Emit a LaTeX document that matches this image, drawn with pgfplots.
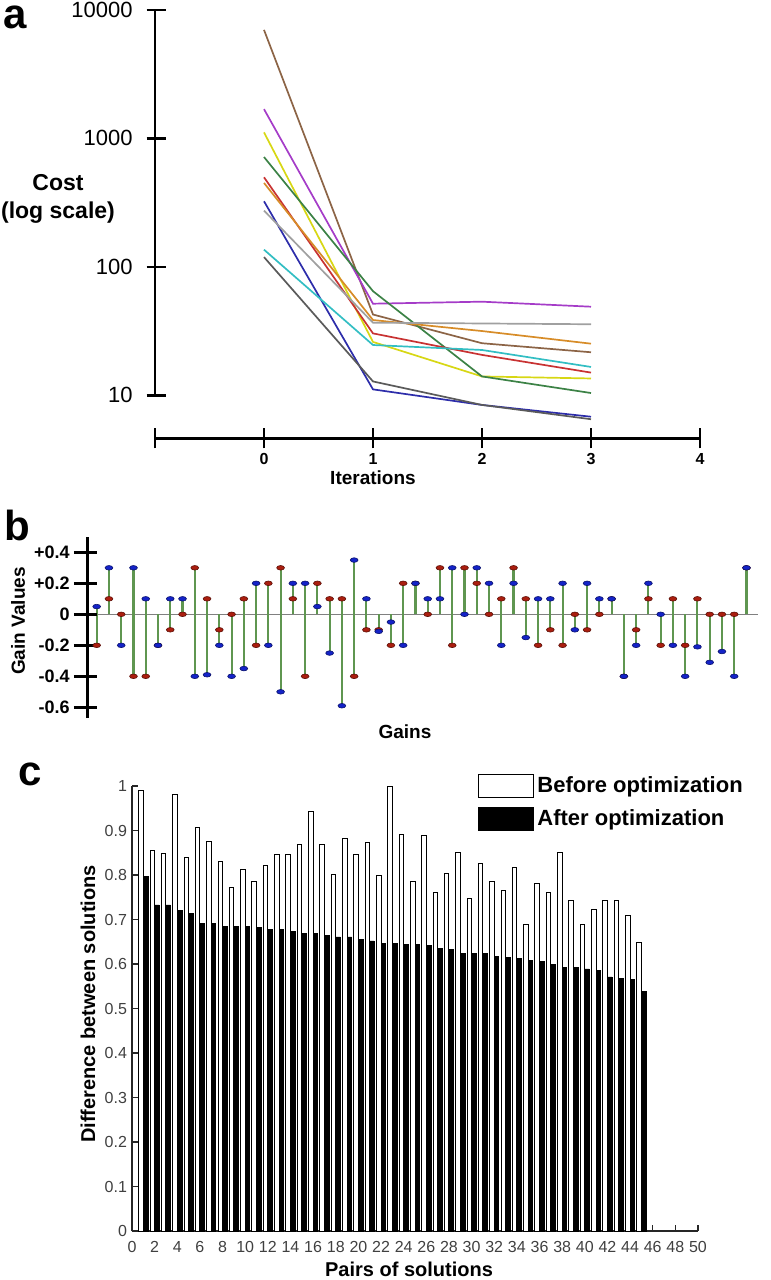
\documentclass[border=0pt]{standalone}
\usepackage{fontspec}
\setmainfont{Liberation Sans}
\usepackage{pgfplots}
\usepackage{pgfplotstable}
\pgfplotsset{compat=1.18}
\definecolor{cBrown}{RGB}{140,100,70}
\definecolor{cPurple}{RGB}{165,60,200}
\definecolor{cYellow}{RGB}{215,215,20}
\definecolor{cGreen}{RGB}{60,130,70}
\definecolor{cRed}{RGB}{200,50,50}
\definecolor{cOrange}{RGB}{215,140,40}
\definecolor{cBlue}{RGB}{45,45,170}
\definecolor{cGray}{RGB}{160,160,160}
\definecolor{cCyan}{RGB}{50,190,195}
\definecolor{cDark}{RGB}{90,90,90}
\definecolor{stemGreen}{RGB}{95,150,80}
\definecolor{mBlue}{RGB}{20,35,200}
\definecolor{mRed}{RGB}{170,30,15}

\pgfplotstableread{
i r b
1 -0.2 0.05
2 0.1 0.3
3 0 -0.2
4 -0.4 0.3
5 -0.4 0.1
6 -0.2 -0.2
7 -0.1 0.1
8 0 0.1
9 0.3 -0.4
10 0.1 -0.39
11 -0.1 -0.2
12 0 -0.4
13 0.1 -0.35
14 -0.2 0.2
15 0.2 -0.2
16 0.3 -0.5
17 0.1 0.2
18 -0.4 0.2
19 0.2 0.05
20 0.1 -0.25
21 0.1 -0.59
22 -0.4 0.35
23 -0.1 0.1
24 -0.1 -0.11
25 -0.2 -0.05
26 0.2 -0.2
27 0.2 0.2
28 0 0.1
29 0.3 0.1
30 -0.2 0.3
31 0.3 0
32 0.2 0.3
33 0 0.2
34 0.1 -0.2
35 0.3 0.2
36 0.1 -0.15
37 -0.2 0.1
38 -0.1 0.1
39 -0.2 0.2
40 0 -0.1
41 -0.1 0.2
42 0 0.1
43 0.1 0.1
44 -0.4 -0.4
45 -0.1 -0.2
46 0.1 0.2
47 -0.2 0
48 0.1 -0.2
49 -0.2 -0.4
50 0.1 -0.21
51 0 -0.31
52 0 -0.24
53 0 -0.4
54 0.3 0.3
}\gaindata

\pgfplotstableread{
p b a
1 0.989 0.796
2 0.854 0.733
3 0.849 0.733
4 0.980 0.720
5 0.840 0.714
6 0.907 0.692
7 0.875 0.692
8 0.831 0.685
9 0.772 0.685
10 0.813 0.685
11 0.786 0.682
12 0.822 0.677
13 0.846 0.677
14 0.846 0.674
15 0.869 0.668
16 0.942 0.668
17 0.869 0.665
18 0.802 0.661
19 0.881 0.661
20 0.846 0.655
21 0.872 0.652
22 0.798 0.647
23 1.000 0.647
24 0.892 0.644
25 0.786 0.644
26 0.889 0.641
27 0.760 0.635
28 0.804 0.632
29 0.851 0.623
30 0.748 0.623
31 0.825 0.623
32 0.786 0.618
33 0.766 0.615
34 0.816 0.612
35 0.688 0.609
36 0.781 0.606
37 0.760 0.600
38 0.851 0.592
39 0.743 0.592
40 0.688 0.589
41 0.723 0.586
42 0.743 0.571
43 0.743 0.568
44 0.708 0.565
45 0.649 0.539
}\pairdata

\begin{document}
\begin{tikzpicture}
\path[use as bounding box] (0,0) rectangle (385.5pt,-640pt);

% ---------------- panel a ----------------
\node[anchor=base west, font=\bfseries\fontsize{21}{21}\selectfont, inner sep=0pt, text height=11pt, text depth=0pt] at (1.5pt,-14pt) {a};
\node[align=center, font=\bfseries\fontsize{11.5}{14}\selectfont, inner sep=0pt] at (29pt,-99.5pt) {Cost\\(log scale)};
\node[font=\bfseries\fontsize{9.5}{11}\selectfont, inner sep=0pt] at (186.5pt,-239pt) {Iterations};

\begin{axis}[at={(77.5pt,-219.15pt)}, anchor=south west, scale only axis,
  width=272.5pt, height=214.15pt, xmin=-1, xmax=4, ymode=log, ymin=4.617, ymax=10000,
  axis lines=none, clip=false]
\addplot[color=cBrown, line width=0.85pt] coordinates {(0,7000) (1,42.5) (2,25.4) (3,21.6)};
\addplot[color=cPurple, line width=0.85pt] coordinates {(0,1690) (1,51.6) (2,53.5) (3,48.9)};
\addplot[color=cYellow, line width=0.85pt] coordinates {(0,1114) (1,26) (2,14) (3,13.5)};
\addplot[color=cGreen, line width=0.85pt] coordinates {(0,716) (1,64.6) (2,14) (3,10.4)};
\addplot[color=cRed, line width=0.85pt] coordinates {(0,498) (1,30.3) (2,20.6) (3,15)};
\addplot[color=cOrange, line width=0.85pt] coordinates {(0,450) (1,38.5) (2,31.6) (3,25.2)};
\addplot[color=cBlue, line width=0.85pt] coordinates {(0,324) (1,11.1) (2,8.4) (3,6.8)};
\addplot[color=cGray, line width=0.85pt] coordinates {(0,274) (1,36.7) (2,36.2) (3,35.7)};
\addplot[color=cCyan, line width=0.85pt] coordinates {(0,136) (1,24.6) (2,22.5) (3,16.6)};
\addplot[color=cDark, line width=0.85pt] coordinates {(0,119) (1,12.8) (2,8.4) (3,6.5)};
% axes
\draw[line width=1.3pt] (axis cs:-1,4.617) -- (axis cs:4,4.617);
\pgfplotsinvokeforeach{-1,0,1,2,3,4}{
  \draw[line width=1.3pt] ([yshift=-5pt]axis cs:#1,4.617) -- ([yshift=5pt]axis cs:#1,4.617);
}
\pgfplotsinvokeforeach{0,1,2,3,4}{
  \node[font=\bfseries\fontsize{8}{9}\selectfont, inner sep=0pt] at ([yshift=-10.5pt]axis cs:#1,4.617) {#1};
}
\draw[line width=1.3pt] (axis cs:-1,10) -- (axis cs:-1,10000);
\pgfplotsinvokeforeach{10,100,1000,10000}{
  \draw[line width=1.3pt] ([xshift=-4.2pt]axis cs:-1,#1) -- ([xshift=5.3pt]axis cs:-1,#1);
  \node[anchor=east, font=\fontsize{11}{12}\selectfont, inner sep=0pt] at ([xshift=-11pt]axis cs:-1,#1) {#1};
}
\end{axis}

% ---------------- panel b ----------------
\node[anchor=base west, font=\bfseries\fontsize{21}{21}\selectfont, inner sep=0pt] at (2pt,-270pt) {b};
\node[rotate=90, font=\bfseries\fontsize{9.5}{11}\selectfont, inner sep=0pt] at (9pt,-310.5pt) {Gain Values};
\node[font=\bfseries\fontsize{9.5}{11}\selectfont, inner sep=0pt] at (202.5pt,-366pt) {Gains};

\begin{axis}[at={(43.65pt,-359pt)}, anchor=south west, scale only axis,
  width=335.35pt, height=90.6pt, xmin=0.233, xmax=54.94, ymin=-0.669, ymax=0.5,
  axis lines=none, clip=false]
\draw[gray, line width=0.5pt] (axis cs:0.233,0) -- (axis cs:54.94,0);
\addplot[ycomb, color=stemGreen, line width=1.05pt] table[x=i, y=r] {\gaindata};
\addplot[ycomb, color=stemGreen, line width=1.05pt] table[x=i, y=b] {\gaindata};
\addplot[only marks, mark=*, mark size=1.15pt, mark options={xscale=1.7, fill=mRed, draw=mRed!55!black, line width=0.3pt}] table[x=i, y=r] {\gaindata};
\addplot[only marks, mark=*, mark size=1.15pt, mark options={xscale=1.7, fill=mBlue, draw=mBlue!55!black, line width=0.3pt}] table[x=i, y=b] {\gaindata};
\draw[line width=1.2pt] (axis cs:0.233,-0.669) -- (axis cs:0.233,0.5);
\pgfplotsinvokeforeach{0.4,0.2,0,-0.2,-0.4,-0.6}{
  \draw[line width=1.2pt] ([xshift=-6.65pt]axis cs:0.233,#1) -- ([xshift=4.85pt]axis cs:0.233,#1);
}
\node[anchor=east, font=\bfseries\fontsize{9}{10}\selectfont, inner sep=0pt] at ([xshift=-8.65pt]axis cs:0.233,0.4) {+0.4};
\node[anchor=east, font=\bfseries\fontsize{9}{10}\selectfont, inner sep=0pt] at ([xshift=-8.65pt]axis cs:0.233,0.2) {+0.2};
\node[anchor=east, font=\bfseries\fontsize{9}{10}\selectfont, inner sep=0pt] at ([xshift=-8.65pt]axis cs:0.233,0) {0};
\node[anchor=east, font=\bfseries\fontsize{9}{10}\selectfont, inner sep=0pt] at ([xshift=-8.65pt]axis cs:0.233,-0.2) {-0.2};
\node[anchor=east, font=\bfseries\fontsize{9}{10}\selectfont, inner sep=0pt] at ([xshift=-8.65pt]axis cs:0.233,-0.4) {-0.4};
\node[anchor=east, font=\bfseries\fontsize{9}{10}\selectfont, inner sep=0pt] at ([xshift=-8.65pt]axis cs:0.233,-0.6) {-0.6};
\end{axis}

% ---------------- panel c ----------------
\node[anchor=base west, font=\bfseries\fontsize{21}{21}\selectfont, inner sep=0pt] at (9pt,-392.5pt) {c};
\node[rotate=90, font=\bfseries\fontsize{10}{11}\selectfont, inner sep=0pt] at (44pt,-502pt) {Difference between solutions};
\node[font=\bfseries\fontsize{10}{11}\selectfont, inner sep=0pt, text depth=0pt] at (204.5pt,-634.5pt) {Pairs of solutions};

\begin{axis}[at={(66pt,-615.5pt)}, anchor=south west, scale only axis,
  width=283pt, height=222.5pt, xmin=0, xmax=50, ymin=0, ymax=1,
  axis x line=bottom, axis y line=left,
  axis line style={-, line width=0.6pt, black!85},
  tick style={line width=0.6pt, black!85},
  tick align=inside, major tick length=3pt,
  xtick={0,2,...,50},
  ytick={0,0.1,0.2,0.3,0.4,0.5,0.6,0.7,0.8,0.9,1},
  yticklabels={0,0.1,0.2,0.3,0.4,0.5,0.6,0.7,0.8,0.9,1},
  /pgf/number format/assume math mode=true,
  ticklabel style={font=\fontsize{8}{9}\selectfont, text=black!75},
  xticklabel style={yshift=-1.5pt},
  yticklabel style={xshift=1pt},
  clip=false,
  legend image code/.code={\draw[#1, line width=0.6pt] (0pt,-5.75pt) rectangle (27.5pt,5.75pt);},
  legend style={at={(0.611,1.029)}, anchor=north west, draw=none, fill=none,
    font=\bfseries\fontsize{11}{13}\selectfont, row sep=4pt, inner sep=0pt,
    nodes={inner sep=1.5pt}},
  legend cell align=left]
\addplot[ybar, bar width=0.4, bar shift=-0.2, fill=white, draw=black, line width=0.5pt] table[x=p, y=b] {\pairdata};
\addlegendentry{Before optimization}
\addplot[ybar, bar width=0.4, bar shift=0.2, fill=black, draw=black, line width=0.3pt] table[x=p, y=a] {\pairdata};
\addlegendentry{After optimization}
\end{axis}
\end{tikzpicture}
\end{document}
